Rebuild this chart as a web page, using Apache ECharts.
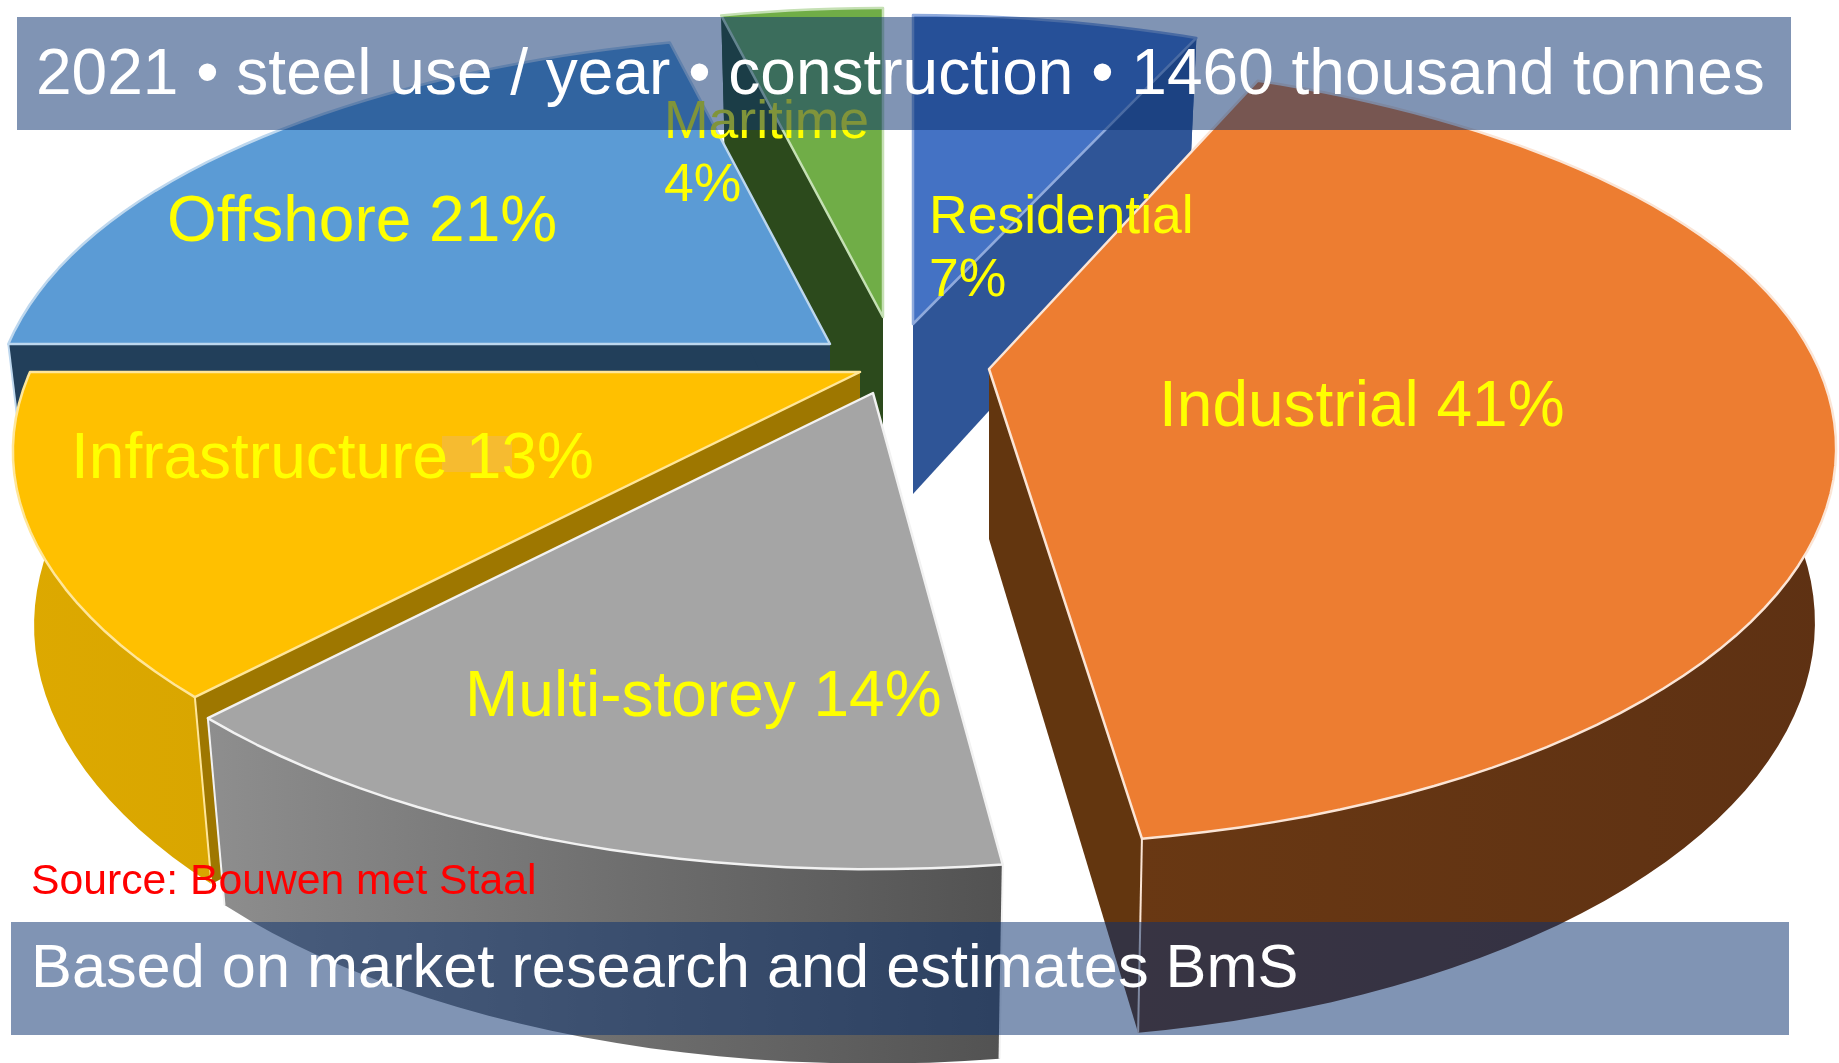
<!DOCTYPE html>
<html>
<head>
<meta charset="utf-8">
<style>html,body{margin:0;padding:0;background:#fff}#chart{width:1839px;height:1063px}</style>
<script src="https://cdn.jsdelivr.net/npm/echarts@6/dist/echarts.min.js"></script>
</head>
<body>
<div id="chart"></div>
<script>
// reading order, clockwise from 12 o'clock
const sectors = ["Residential", "Industrial", "Multi-storey", "Infrastructure", "Offshore", "Maritime"];
const shares = [7, 41, 14, 13, 21, 4];
const titleText = "2021 • steel use / year • construction • 1460 thousand tonnes";
const footText = "Based on market research and estimates BmS";
const sourceText = "Source: Bouwen met Staal";

// look of the slices, same order as sectors
const topColors = ["#4472C4", "#ED7D31", "#A5A5A5", "#FFC000", "#5B9BD5", "#70AD47"];
const rimColors = ["#8FAADC", "#FBE5D6", "#F2F2F2", "#FFE699", "#BDD7EE", "#C5E0B4"];
const wallFrom = ["#2F5597", "#693813", "#8E8E8E", "#DDA900", "#223F5A", "#2C4A1C"];
const wallTo = ["#2F5597", "#5E3113", "#525252", "#D9A600", "#223F5A", "#2C4A1C"];
const edgeColors = ["#2F5597", "#63360F", "#7A7A7A", "#9E7700", "#223F5A", "#2C4A1C"];
const explode = [[22, -34], [98, 11], [-18, 35], [-31, 14], [-61, -14], [-8, -41]];
const spin = [0, -1.3, 0, 0, 0, 0];
const reach = [1, 1, 1, 1, 0.99, 1];
const paintOrder = [1, 5, 4, 3, 2, 0]; // maritime at the back, industrial last

// perspective of the disc
const cx = 891, cy = 358, rx = 830, ry = 381, persp = 0.2, depth = 170;

const total = shares.reduce((a, b) => a + b, 0);

function project(deg, off, scale) {
  const t = deg * Math.PI / 180;
  const a = Math.sin(t), b = -Math.cos(t);
  const w = 1 / (1 - persp * b);
  // far half closes in a bit quicker than the near half opens
  const far = b < 0 ? b * b : 0;
  const wx = Math.pow(w, 1 + 0.4 * far);
  const wy = Math.pow(w, 1 + 0.15 * far);
  return [cx + off[0] + rx * scale * a * wx, cy + off[1] + ry * b * wy, w, b];
}
function topPoint(deg, off, scale) {
  const p = project(deg, off, scale);
  return [p[0], p[1]];
}
function lowPoint(deg, off, scale) {
  const p = project(deg, off, scale);
  const apexX = cx + off[0];
  return [apexX + (p[0] - apexX) * 0.975, p[1] + depth * Math.pow(p[2], 0.6)];
}

function renderSlice(params, api) {
  const i = params.dataIndex;
  const off = explode[i];
  let start = 0;
  for (let k = 0; k < i; k++) start += shares[k];
  start = start / total * 360 + spin[i];
  const end = start + api.value(0) / total * 360;

  const arc = [], low = [];
  for (let d = start; d < end; d += 2) {
    arc.push(topPoint(d, off, reach[i]));
    low.push(lowPoint(d, off, reach[i]));
  }
  arc.push(topPoint(end, off, reach[i]));
  low.push(lowPoint(end, off, reach[i]));

  const apex = [cx + off[0], cy + off[1]];
  const apexLow = [apex[0], apex[1] + depth];
  const z = paintOrder[i] * 10;
  const last = arc.length - 1;

  const wallFill = new echarts.graphic.LinearGradient(0, 0, 1, 0, [
    { offset: 0, color: wallFrom[i] },
    { offset: 1, color: wallTo[i] }
  ]);
  const rim = { stroke: rimColors[i], lineWidth: 2.5, lineJoin: "round" };

  const children = [
    { type: "polygon", z2: z, shape: { points: [apex, arc[0], low[0], apexLow] }, style: { fill: edgeColors[i] } },
    { type: "polygon", z2: z, shape: { points: [apex, arc[last], low[last], apexLow] }, style: { fill: edgeColors[i] } },
    { type: "polygon", z2: z + 1, shape: { points: arc.concat(low.slice().reverse()) }, style: { fill: wallFill } }
  ];
  // light seam down the corners that face the viewer
  if (project(end, off, 1)[3] > 0) {
    children.push({ type: "polyline", z2: z + 1, shape: { points: [arc[last], low[last]] }, style: { stroke: rimColors[i], lineWidth: 2, fill: null } });
  }
  if (project(start, off, 1)[3] > 0) {
    children.push({ type: "polyline", z2: z + 1, shape: { points: [arc[0], low[0]] }, style: { stroke: rimColors[i], lineWidth: 2, fill: null } });
  }
  children.push({ type: "polygon", z2: z + 2, shape: { points: [apex].concat(arc) }, style: Object.assign({ fill: topColors[i] }, rim) });

  return { type: "group", children: children };
}

function label(text, x, y, size, fill, z, lineHeight) {
  return {
    type: "text", z: z,
    style: {
      text: text, x: x, y: y, fill: fill,
      font: size + 'px "Liberation Sans"',
      textAlign: "left", textVerticalAlign: "middle", lineHeight: lineHeight || size * 1.3
    }
  };
}

const chart = echarts.init(document.getElementById("chart"));
chart.setOption({
  backgroundColor: "#fff",
  animation: false,
  series: [{
    type: "custom",
    coordinateSystem: "none",
    z: 2,
    silent: true,
    renderItem: renderSlice,
    data: shares.map((v, i) => ({ name: sectors[i], value: [v] }))
  }],
  graphic: { elements: [
    { type: "rect", z: 3, shape: { x: 442, y: 436, width: 70, height: 36 }, style: { fill: "#F6BB30" } },
    label(sectors[5] + "\n" + shares[5] + "%", 664, 155, 53.5, "#FFFF00", 4, 63),
    label(sectors[0] + "\n" + shares[0] + "%", 929, 250, 53.5, "#FFFF00", 4, 63),
    { type: "rect", z: 5, shape: { x: 17, y: 17, width: 1774, height: 113 }, style: { fill: "rgba(11,50,111,0.52)" } },
    { type: "rect", z: 5, shape: { x: 11, y: 922, width: 1778, height: 113 }, style: { fill: "rgba(11,50,111,0.52)" } },
    label(titleText, 36, 76, 64, "#FFFFFF", 6),
    label(footText, 31, 970, 61.3, "#FFFFFF", 6),
    label(sectors[4] + " " + shares[4] + "%", 167, 223, 64, "#FFFF00", 6),
    label(sectors[1] + " " + shares[1] + "%", 1159, 408, 64, "#FFFF00", 6),
    label(sectors[3] + " " + shares[3] + "%", 71, 460, 64, "#FFFF00", 6),
    label(sectors[2] + " " + shares[2] + "%", 465, 698, 64, "#FFFF00", 6),
    label(sourceText, 31, 882, 42.7, "#FF0000", 6)
  ] }
});
</script>
</body>
</html>
